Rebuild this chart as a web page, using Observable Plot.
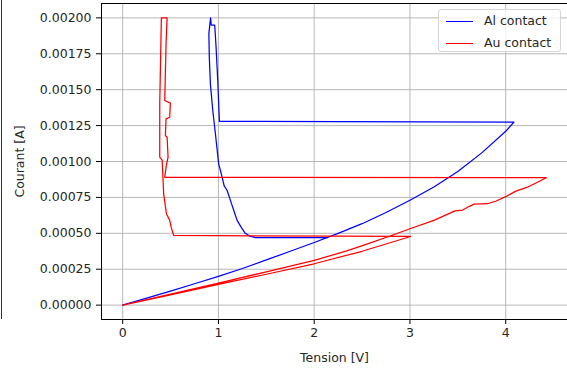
<!DOCTYPE html>
<html>
<head>
<meta charset="utf-8">
<script src="https://cdn.jsdelivr.net/npm/d3@7"></script>
<script src="https://cdn.jsdelivr.net/npm/@observablehq/plot@0.6"></script>
<style>
  html, body { margin: 0; padding: 0; background: #fff; }
  #wrap { position: relative; width: 567px; height: 369px; overflow: hidden; font-family: "DejaVu Sans", sans-serif; }
  #edge { position: absolute; left: 1px; top: 0; width: 0; height: 319px; border-left: 1px solid #333; }
  .legend { position: absolute; left: 438px; top: 9px; width: 123px; height: 43px; box-sizing: border-box;
    border: 1px solid #d6d6d6; border-radius: 3px; background: rgba(255,255,255,0.8); font-size: 12.5px; color: #262626; }
  .legend .row { position: absolute; left: 0; height: 16px; width: 100%; }
  .legend .sw { position: absolute; left: 7px; top: 8px; width: 27px; height: 0; border-top: 1.3px solid; }
  .legend .lb { position: absolute; left: 45px; top: 0; line-height: 16px; white-space: nowrap; }
</style>
</head>
<body>
<div id="wrap"><div id="edge"></div></div>
<script>
// Series names and colours
const seriesNames = ["Al contact", "Au contact"];
const seriesColors = ["#0000ff", "#ff0000"];

// Al contact (blue): rising sweep, top plateau back, vertical part, lower plateau
const alV = [0, 0.25, 0.5, 0.75, 1, 1.25, 1.5, 1.75, 2, 2.25, 2.5, 2.75, 3, 3.25, 3.5, 3.75, 4, 4.086,
  1.01, 0.993, 0.975, 0.961, 0.925, 0.918, 0.9, 0.905, 0.916, 0.94, 0.969, 1.003, 1.02, 1.039, 1.06, 1.09, 1.12, 1.14, 1.17, 1.195, 1.24, 1.28, 1.33, 1.387, 2.14];
const alI = [0, 0.000049, 0.000098, 0.000149, 0.0002, 0.000255, 0.000315, 0.000375, 0.000436, 0.0005, 0.000567, 0.000645, 0.00073, 0.000822, 0.00093, 0.00106, 0.00121, 0.001274,
  0.00128, 0.00156, 0.0018, 0.00195, 0.00195, 0.002, 0.00189, 0.00172, 0.00154, 0.00136, 0.00119, 0.00098, 0.00094, 0.00089, 0.00083, 0.0008, 0.00074, 0.0007, 0.00064, 0.00059, 0.00054, 0.0005, 0.00048, 0.00047, 0.00047];

// Au contact (red): lower sweep, plateau back, vertical loop, upper plateau, return sweep
const auV = [0, 0.5, 1, 1.5, 2, 2.5, 3.006,
  0.533, 0.506, 0.491, 0.457, 0.428, 0.412, 0.387, 0.387, 0.404,
  0.464, 0.453, 0.439, 0.498, 0.491, 0.453, 0.446, 0.464, 0.474, 0.453, 0.439,
  4.424, 4.3, 4.226, 4.1, 4.0, 3.9, 3.81, 3.67, 3.62, 3.55, 3.47, 3.25, 3.0, 2.8, 2.55, 2.34, 2.0, 1.5, 1.0, 0.5, 0];
const auI = [0, 0.000071, 0.000145, 0.000215, 0.000288, 0.000375, 0.000478,
  0.000485, 0.000543, 0.00059, 0.000636, 0.000775, 0.00101, 0.00103, 0.0014, 0.002,
  0.002, 0.00182, 0.001425, 0.001406, 0.001308, 0.001297, 0.001181, 0.001169, 0.00103, 0.00096, 0.00089,
  0.000887, 0.000845, 0.000821, 0.000792, 0.000755, 0.000725, 0.000706, 0.000703, 0.000688, 0.000662, 0.000656, 0.00059, 0.000532, 0.000483, 0.000425, 0.000378, 0.000311, 0.000232, 0.000153, 0.000076, 0];

// Tick values
const xTicks = [0, 1, 2, 3, 4];
const yTicks = [0, 0.00025, 0.0005, 0.00075, 0.001, 0.00125, 0.0015, 0.00175, 0.002];

const rows = [
  ...alV.map((v, i) => ({V: v, I: alI[i], s: seriesNames[0]})),
  ...auV.map((v, i) => ({V: v, I: auI[i], s: seriesNames[1]}))
];

const xDom = [-0.2212, 4.6452];
const yDom = [-0.0001, 0.0021];

const chart = Plot.plot({
  width: 567,
  height: 369,
  marginLeft: 101,
  marginRight: 0,
  marginTop: 3,
  marginBottom: 50,
  style: {fontFamily: "DejaVu Sans", fontSize: "12.5px", color: "#262626", background: "transparent", overflow: "visible"},
  x: {domain: xDom},
  y: {domain: yDom},
  color: {domain: seriesNames, range: seriesColors},
  marks: [
    Plot.gridX(xTicks, {stroke: "#b0b0b0", strokeOpacity: 1, strokeWidth: 0.9}),
    Plot.gridY(yTicks, {stroke: "#b0b0b0", strokeOpacity: 1, strokeWidth: 0.9}),
    Plot.line(rows, {x: "V", y: "I", z: "s", stroke: "s", strokeWidth: 1.25}),
    Plot.ruleX([xDom[0]], {stroke: "#000", strokeWidth: 1}),
    Plot.ruleY([yDom[0], yDom[1]], {stroke: "#000", strokeWidth: 1}),
    Plot.axisX(xTicks, {tickSize: 5, tickPadding: 4, stroke: "#000", label: "Tension [V]", labelAnchor: "center", labelArrow: "none", labelOffset: 42}),
    Plot.axisY(yTicks, {tickSize: 5, tickPadding: 5, stroke: "#000", tickFormat: d3.format(".5f"), label: "Courant [A]", labelAnchor: "center", labelArrow: "none", labelOffset: 86})
  ]
});
const wrap = document.getElementById("wrap");
chart.style.position = "absolute";
chart.style.left = "0";
chart.style.top = "0";
wrap.appendChild(chart);

const legend = document.createElement("div");
legend.className = "legend";
seriesNames.forEach((name, i) => {
  const row = document.createElement("div");
  row.className = "row";
  row.style.top = (3 + i * 21.5) + "px";
  const sw = document.createElement("div");
  sw.className = "sw";
  sw.style.borderTopColor = seriesColors[i];
  const lb = document.createElement("div");
  lb.className = "lb";
  lb.textContent = name;
  row.appendChild(sw);
  row.appendChild(lb);
  legend.appendChild(row);
});
wrap.appendChild(legend);
</script>
</body>
</html>
